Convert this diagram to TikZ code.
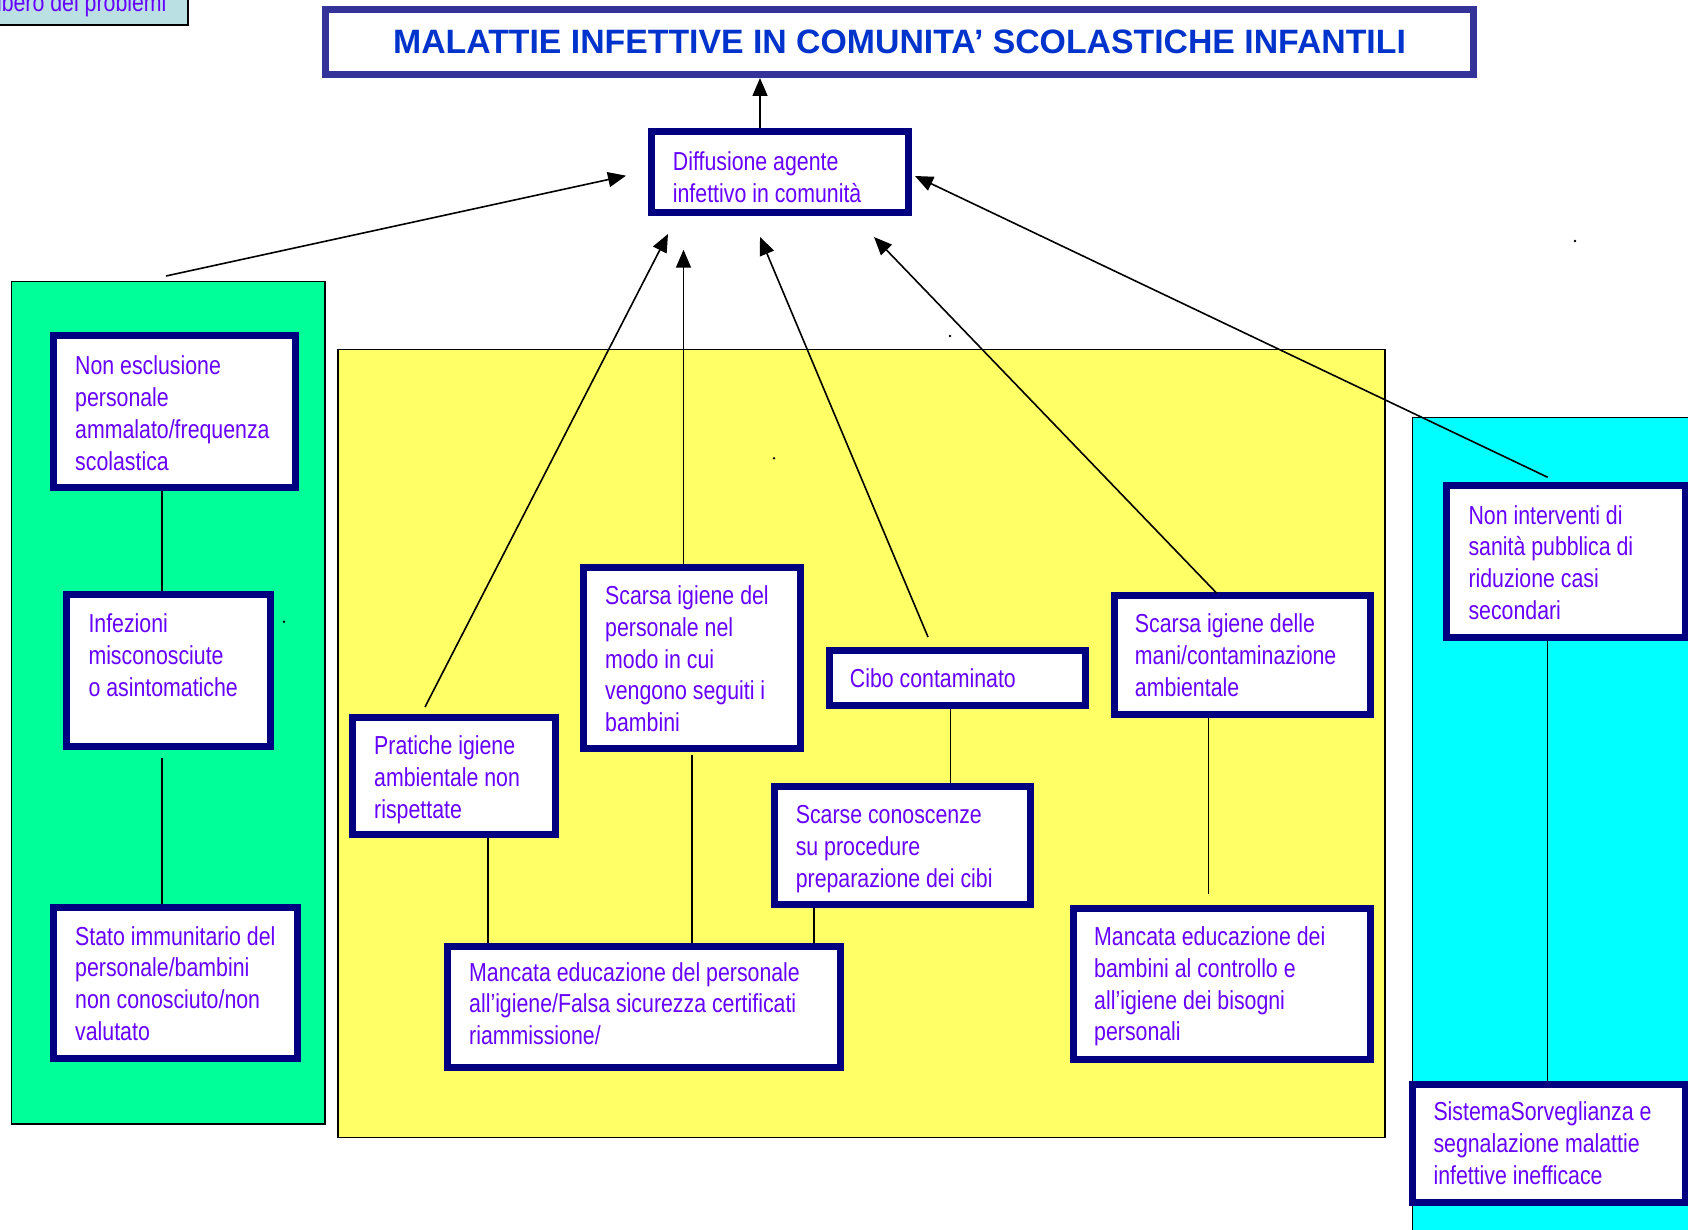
\documentclass[tikz,border=0pt]{standalone}
\usepackage{fontspec}
\setmainfont{Liberation Sans}
\newfontfamily\narrowfont[FakeStretch=0.82]{Liberation Sans}
\usetikzlibrary{arrows.meta}

\definecolor{boxnavy}{HTML}{000080}
\definecolor{titleframe}{HTML}{333399}
\definecolor{titleblue}{HTML}{0033CC}
\definecolor{violettext}{HTML}{6600FF}
\definecolor{panelgreen}{HTML}{00FF99}
\definecolor{panelyellow}{HTML}{FFFF66}
\definecolor{panelcyan}{HTML}{00FFFF}
\definecolor{labelfill}{HTML}{BBE0E3}

\newcommand{\bodyfont}{\narrowfont\fontsize{26pt}{31.8pt}\selectfont}
\newcommand{\mlines}[1]{\begin{tabular}[t]{@{}l@{}}#1\end{tabular}}

\begin{document}
\begin{tikzpicture}[x=1pt, y=-1pt,
  panel/.style={draw=black, line width=1.5pt},
  box/.style={draw=boxnavy, fill=white, line width=7pt, inner sep=0pt},
  titlebox/.style={draw=titleframe, fill=white, line width=7pt, inner sep=0pt,
    font=\bfseries\fontsize{33.8pt}{40pt}\selectfont, text=titleblue},
  txt/.style={anchor=base west, inner sep=0pt, font=\bodyfont, text=violettext},
  link/.style={draw=black, line width=1.5pt},
  arr/.style={draw=black, line width=1.6pt, -{Triangle[length=18pt,width=15pt]}},
  speck/.style={fill=black}]

\useasboundingbox (0,0) rectangle (1688,1230);
\clip (0,0) rectangle (1688,1230);
\fill[white] (0,0) rectangle (1688,1230);

% label in the upper left corner
\node[draw=black, line width=2pt, fill=labelfill, minimum width=260pt,
      minimum height=70pt, inner sep=0pt] (lbl) at (57.7,-10) {};
\node[anchor=base east, inner sep=0pt, font=\bodyfont, text=violettext]
      (lbl-t) at (166.7,12) {Albero dei problemi};

% coloured group panels
\path[panel, fill=panelgreen]  (11.7,281.7) rectangle (325,1124);
\path[panel, fill=panelyellow] (338,349.5) rectangle (1385,1137.3);
\path[panel, fill=panelcyan]   (1412.3,417.3) rectangle (1720,1260);

% stray specks
\fill[speck] (284,621.7) circle (1.3pt);
\fill[speck] (950,336) circle (1.3pt);
\fill[speck] (774,458.3) circle (1.3pt);
\fill[speck] (1575,241) circle (1.3pt);

% boxes
\node[titlebox, minimum width=1148pt, minimum height=65pt] (title) at (899.5,42)
  {\raisebox{-2.5pt}{MALATTIE INFETTIVE IN COMUNITA’ SCOLASTICHE INFANTILI}};
\node[box, minimum width=257pt, minimum height=81pt] (diff) at (780,172.5) {};
\node[box, minimum width=242pt, minimum height=152pt] (ne) at (174.5,411.5) {};
\node[box, minimum width=203.7pt, minimum height=151.3pt] (inf) at (168.65,670.5) {};
\node[box, minimum width=244pt, minimum height=151.4pt] (stato) at (175.5,983) {};
\node[box, minimum width=203.3pt, minimum height=117.7pt] (prat) at (454.15,776) {};
\node[box, minimum width=216.7pt, minimum height=180.7pt] (spers) at (691.85,658) {};
\node[box, minimum width=393pt, minimum height=121pt] (medp) at (644,1007) {};
\node[box, minimum width=256.5pt, minimum height=55pt] (cibo) at (957.25,677.5) {};
\node[box, minimum width=256.3pt, minimum height=118pt] (scon) at (902.35,845) {};
\node[box, minimum width=256.2pt, minimum height=118.2pt] (smani) at (1242.2,655) {};
\node[box, minimum width=297.3pt, minimum height=150.4pt] (medb) at (1221.65,984) {};
\node[box, minimum width=238.7pt, minimum height=151.3pt] (nonint) at (1566.15,561.5) {};
\node[box, minimum width=273pt, minimum height=118.7pt] (sist) at (1549,1143.5) {};

% vertical positions of the links and free ends of the arrows
\coordinate (xg) at (162,0);
\coordinate (xp) at (488,0);
\coordinate (xs) at (692,0);
\coordinate (xc) at (814,0);
\coordinate (xf) at (950.5,0);
\coordinate (xm) at (1208.6,0);
\coordinate (xn) at (1547.7,0);
\coordinate (xt) at (760,0);
\coordinate (a1s) at (166,276);    \coordinate (a1e) at (626,175.7);
\coordinate (a2s) at (425,707);    \coordinate (a2e) at (668,234);
\coordinate (a3e) at (683.5,249.7);
\coordinate (a4s) at (928,637);    \coordinate (a4e) at (760,237);
\coordinate (a5s) at (1216.5,593); \coordinate (a5e) at (874,237);
\coordinate (a6s) at (1547.7,477.3); \coordinate (a6e) at (915,176);

% links between causes
\draw[link] (ne.south -| xg) -- (inf.north -| xg);
\draw[link, shorten <=8pt] (inf.south -| xg) -- (stato.north -| xg);
\draw[link] (prat.south -| xp) -- (medp.north -| xp);
\draw[link, shorten <=3pt] (spers.south -| xs) -- (medp.north -| xs);
\draw[link] (scon.south -| xc) -- (medp.north -| xc);
\draw[link] (cibo.south -| xf) -- (scon.north -| xf);
\draw[link, shorten >=11pt] (smani.south -| xm) -- (medb.north -| xm);
\draw[link] (nonint.south -| xn) -- (sist.north -| xn);

% arrows towards the central effect
\draw[arr] (diff.north -| xt) -- (title.south -| xt);
\draw[arr] (a1s) -- (a1e);
\draw[arr] (a2s) -- (a2e);
\draw[arr] (spers.north -| a3e) -- (a3e);
\draw[arr] (a4s) -- (a4e);
\draw[arr] (a5s) -- (a5e);
\draw[arr] (a6s) -- (a6e);

% box texts
\node[txt] (diff-t) at (672.7,171) {\mlines{Diffusione agente\\infettivo in comunità}};
\node[txt] (ne-t) at (75,374.8) {\mlines{Non esclusione\\personale\\ammalato/frequenza\\scolastica}};
\node[txt] (inf-t) at (88.3,632.5) {\mlines{Infezioni\\misconosciute\\o asintomatiche}};
\node[txt] (stato-t) at (75,945) {\mlines{Stato immunitario del\\personale/bambini\\non conosciuto/non\\valutato}};
\node[txt] (prat-t) at (374,754.5) {\mlines{Pratiche igiene\\ambientale non\\rispettate}};
\node[txt] (spers-t) at (605,604.5) {\mlines{Scarsa igiene del\\personale nel\\modo in cui\\vengono seguiti i\\bambini}};
\node[txt] (medp-t) at (469,981) {\mlines{Mancata educazione del personale\\all’igiene/Falsa sicurezza certificati\\riammissione/}};
\node[txt] (cibo-t) at (849.7,687.5) {Cibo contaminato};
\node[txt] (scon-t) at (795.6,823.5) {\mlines{Scarse conoscenze\\su procedure\\preparazione dei cibi}};
\node[txt] (smani-t) at (1134.7,632.5) {\mlines{Scarsa igiene delle\\mani/contaminazione\\ambientale}};
\node[txt] (medb-t) at (1094,945.5) {\mlines{Mancata educazione dei\\bambini al controllo e\\all’igiene dei bisogni\\personali}};
\node[txt] (nonint-t) at (1468.3,524) {\mlines{Non interventi di\\sanità pubblica di\\riduzione casi\\secondari}};
\node[txt] (sist-t) at (1433.3,1120.5) {\mlines{SistemaSorveglianza e\\segnalazione malattie\\infettive inefficace}};

\end{tikzpicture}
\end{document}
